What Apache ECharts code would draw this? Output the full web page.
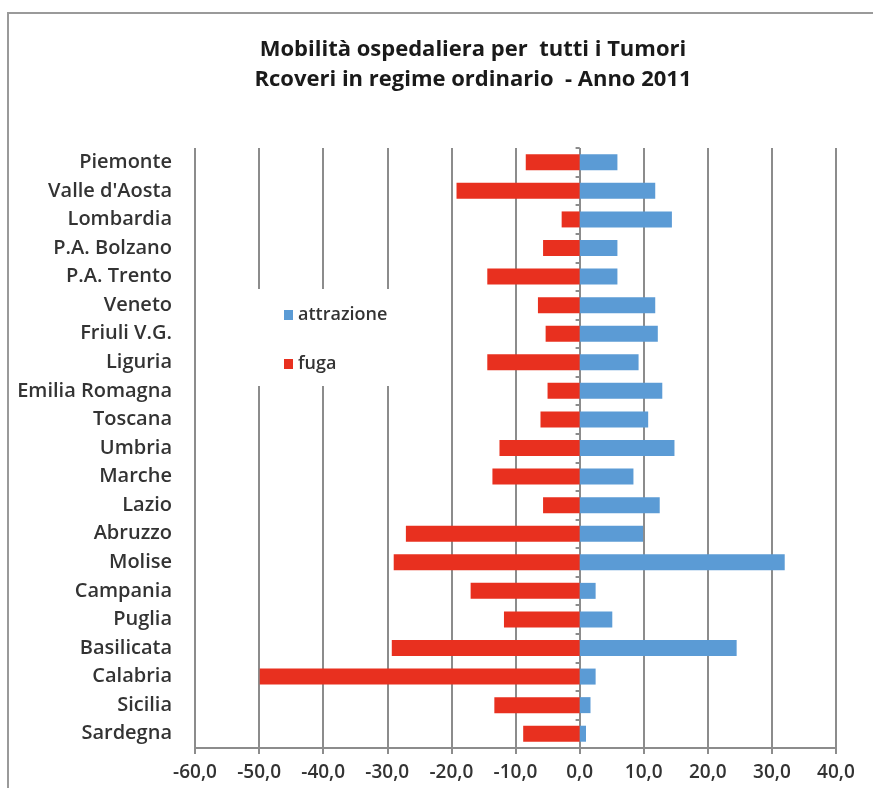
<!DOCTYPE html>
<html>
<head>
<meta charset="utf-8">
<script src="https://cdn.jsdelivr.net/npm/echarts@6/dist/echarts.min.js"></script>
<style>
  html, body { margin: 0; padding: 0; background: #fff; }
  #chart { width: 873px; height: 788px; }
</style>
</head>
<body>
<div id="chart"></div>
<script>
// regioni, dall'alto verso il basso
var regioni = ['Piemonte', "Valle d'Aosta", 'Lombardia', 'P.A. Bolzano', 'P.A. Trento',
    'Veneto', 'Friuli V.G.', 'Liguria', 'Emilia Romagna', 'Toscana', 'Umbria', 'Marche',
    'Lazio', 'Abruzzo', 'Molise', 'Campania', 'Puglia', 'Basilicata', 'Calabria',
    'Sicilia', 'Sardegna'];
var attrazione = [5.9, 11.8, 14.4, 5.9, 5.9, 11.8, 12.2, 9.2, 12.9, 10.7, 14.8, 8.4,
    12.5, 9.9, 32.0, 2.5, 5.1, 24.5, 2.5, 1.7, 1.0];
var fuga = [-8.4, -19.2, -2.8, -5.7, -14.4, -6.5, -5.3, -14.4, -5.0, -6.1, -12.5, -13.6,
    -5.7, -27.1, -29.0, -17.0, -11.8, -29.3, -49.9, -13.3, -8.8];
var xMin = -60, xMax = 40, xStep = 10;

var font = 'Open Sans';
var myChart = echarts.init(document.getElementById('chart'));
var option = {
    animation: false,
    textStyle: { fontFamily: font },
    title: {
        text: 'Mobilità ospedaliera per  tutti i Tumori\nRcoveri in regime ordinario  - Anno 2011',
        left: 468,
        top: 30,
        textAlign: 'center',
        textStyle: { fontSize: 22, fontWeight: 'bold', color: '#1a1a1a', lineHeight: 30, fontFamily: font }
    },
    graphic: [{
        type: 'rect',
        shape: { x: 8, y: 13, width: 900, height: 900 },
        style: { fill: 'none', stroke: '#9a9a9a', lineWidth: 2 },
        z: -1
    }],
    legend: {
        orient: 'vertical',
        left: 210,
        top: 289,
        padding: [17, 8, 13, 74],
        backgroundColor: '#fff',
        itemWidth: 9,
        itemHeight: 10,
        itemGap: 31,
        icon: 'rect',
        z: 5,
        textStyle: { fontSize: 18, fontWeight: 600, color: '#333', lineHeight: 16, fontFamily: font },
        data: ['attrazione', 'fuga']
    },
    grid: { left: 195, right: 37, top: 148, bottom: 40 },
    xAxis: {
        type: 'value',
        min: xMin,
        max: xMax,
        interval: xStep,
        axisLine: { show: true, onZero: false, lineStyle: { color: '#8c8c8c', width: 2 } },
        axisTick: { show: true, length: 6, lineStyle: { color: '#8c8c8c', width: 2 } },
        splitLine: { show: true, lineStyle: { color: '#8c8c8c', width: 2 } },
        axisLabel: {
            fontSize: 19, fontWeight: 600, color: '#333', margin: 15, fontFamily: font,
            formatter: function (v) { return v.toFixed(1).replace('.', ','); }
        }
    },
    yAxis: [{
        type: 'category',
        inverse: true,
        data: regioni,
        axisLine: { show: false, onZero: false },
        axisTick: { show: false },
        axisLabel: { fontSize: 20, fontWeight: 600, color: '#333', margin: 23, fontFamily: font }
    }, {
        type: 'category',
        inverse: true,
        position: 'left',
        data: regioni,
        axisLine: { show: true, onZero: true, lineStyle: { color: '#8c8c8c', width: 1 } },
        axisTick: { show: true, length: 4, lineStyle: { color: '#8c8c8c', width: 2 } },
        axisLabel: { show: false }
    }],
    series: [{
        name: 'attrazione',
        type: 'bar',
        stack: 'tot',
        barWidth: 16,
        itemStyle: { color: '#5b9bd5' },
        data: attrazione
    }, {
        name: 'fuga',
        type: 'bar',
        stack: 'tot',
        barWidth: 16,
        itemStyle: { color: '#e8301f' },
        data: fuga
    }]
};
myChart.setOption(option);
</script>
</body>
</html>
